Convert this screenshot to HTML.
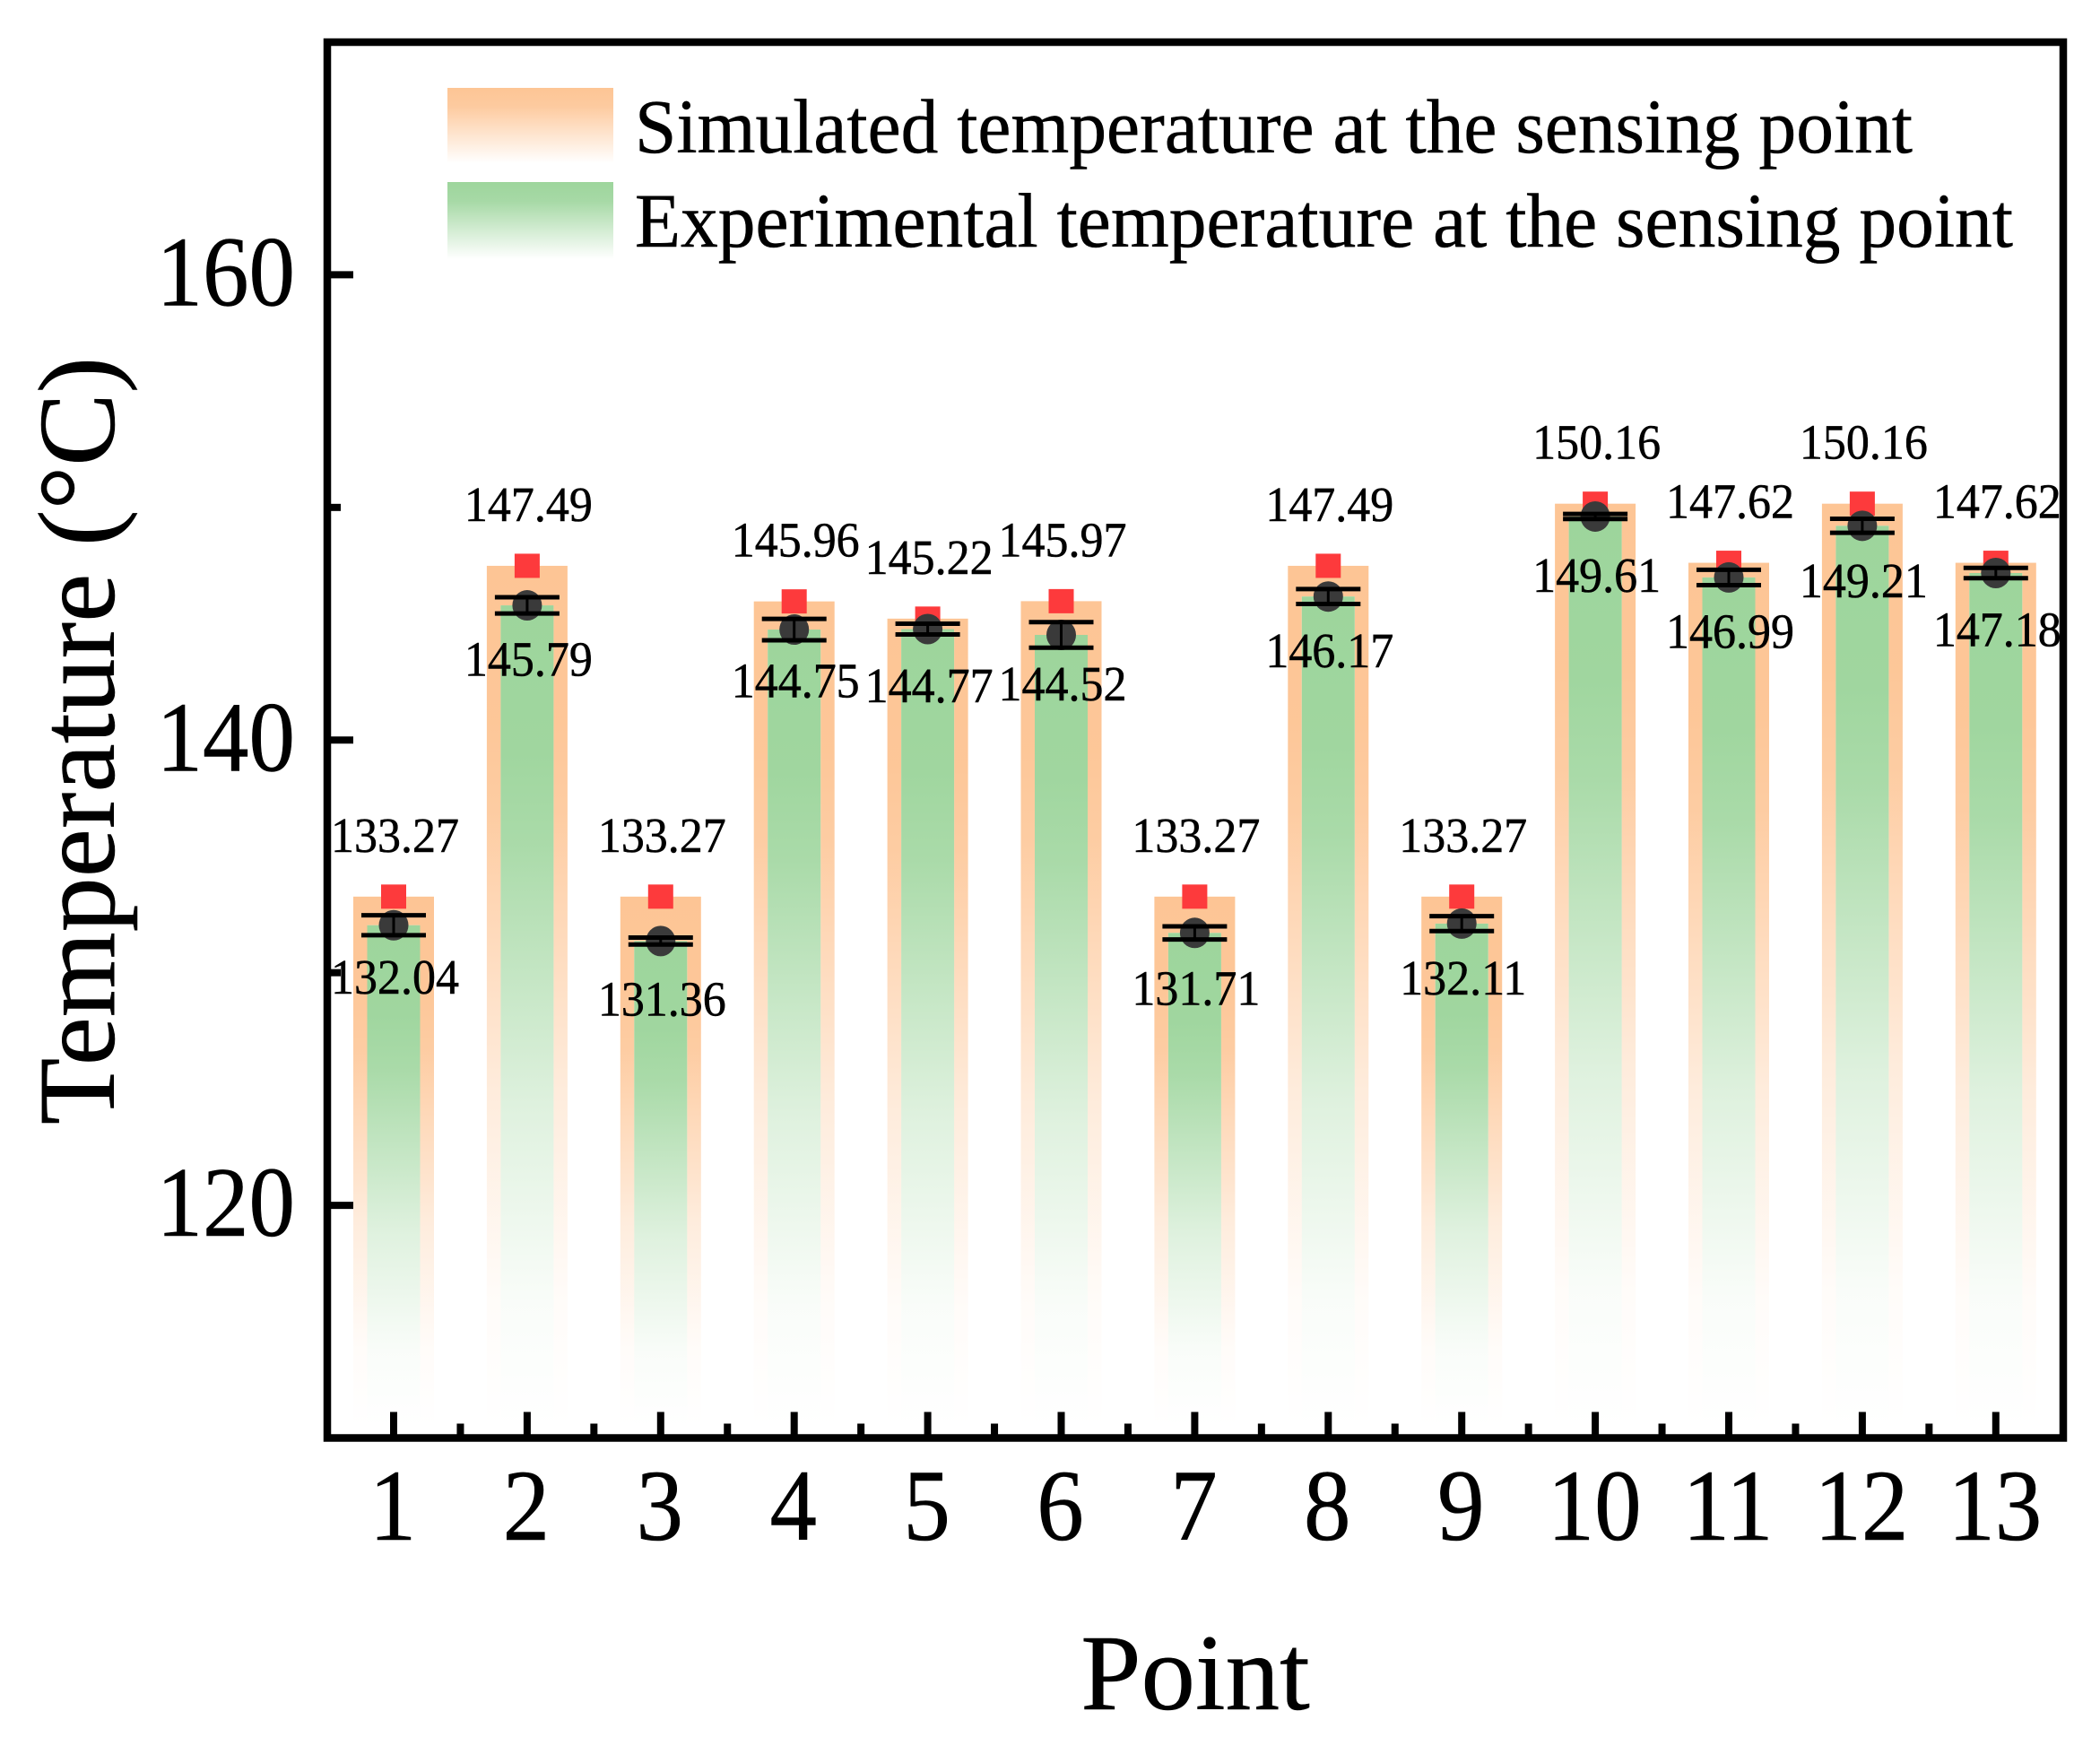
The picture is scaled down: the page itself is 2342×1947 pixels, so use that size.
<!DOCTYPE html>
<html lang="en">
<head>
<meta charset="utf-8">
<title>Temperature at the sensing points</title>
<style>
html,body{margin:0;padding:0;background:#fff;}
svg{display:block;}
text{font-family:"Liberation Serif","Times New Roman",serif;fill:#000;stroke:#000;stroke-width:0.5px;}
</style>
</head>
<body>
<svg id="chart" xmlns="http://www.w3.org/2000/svg" width="2342" height="1947" viewBox="0 0 2342 1947">
<defs>
<linearGradient id="barOrange" x1="0" y1="0" x2="0" y2="1">
<stop offset="0" stop-color="#fdc595"/><stop offset="0.18" stop-color="#fdc595" stop-opacity="0.97"/><stop offset="0.29" stop-color="#fdc595" stop-opacity="0.87"/><stop offset="0.61" stop-color="#fdc595" stop-opacity="0.33"/><stop offset="0.85" stop-color="#fdc595" stop-opacity="0.06"/><stop offset="1" stop-color="#fdc595" stop-opacity="0"/>
</linearGradient>
<linearGradient id="barGreen" x1="0" y1="0" x2="0" y2="1">
<stop offset="0" stop-color="#9dd59c"/><stop offset="0.18" stop-color="#9dd59c" stop-opacity="0.97"/><stop offset="0.29" stop-color="#9dd59c" stop-opacity="0.87"/><stop offset="0.61" stop-color="#9dd59c" stop-opacity="0.33"/><stop offset="0.85" stop-color="#9dd59c" stop-opacity="0.06"/><stop offset="1" stop-color="#9dd59c" stop-opacity="0"/>
</linearGradient>
<linearGradient id="legendOrange" x1="0" y1="0" x2="0" y2="1">
<stop offset="0" stop-color="#fdc595"/><stop offset="0.25" stop-color="#fdc595" stop-opacity="0.9"/><stop offset="1" stop-color="#fdc595" stop-opacity="0"/>
</linearGradient>
<linearGradient id="legendGreen" x1="0" y1="0" x2="0" y2="1">
<stop offset="0" stop-color="#9dd59c"/><stop offset="0.25" stop-color="#9dd59c" stop-opacity="0.9"/><stop offset="1" stop-color="#9dd59c" stop-opacity="0"/>
</linearGradient>
</defs>
<rect x="0" y="0" width="2342" height="1947" fill="#ffffff"/>
<g id="bars"></g>
<g id="marks"></g>
<g id="labels"></g>
<g id="axes"></g>
<rect x="365" y="47" width="1936" height="1556.5" fill="none" stroke="#000" stroke-width="8.5"/>
<g>
<rect x="499" y="98" width="185" height="84" fill="url(#legendOrange)"/>
<text x="708" y="170" font-size="86" textLength="1425" lengthAdjust="spacingAndGlyphs">Simulated temperature at the sensing point</text>
<rect x="499" y="203" width="185" height="86" fill="url(#legendGreen)"/>
<text x="708" y="275" font-size="86" textLength="1537" lengthAdjust="spacingAndGlyphs">Experimental temperature at the sensing point</text>
</g>
<text x="1333" y="1906" font-size="121" text-anchor="middle">Point</text>
<text transform="translate(127,826) rotate(-90)" font-size="122" text-anchor="middle">Temperature (°C)</text>
</svg>
<script>
const points = ["1","2","3","4","5","6","7","8","9","10","11","12","13"];
const simulated = [133.27,147.49,133.27,145.96,145.22,145.97,133.27,147.49,133.27,150.16,147.62,150.16,147.62];
const experimental = [132.04,145.79,131.36,144.75,144.77,144.52,131.71,146.17,132.11,149.61,146.99,149.21,147.18];
const errors = [0.43,0.35,0.15,0.46,0.23,0.55,0.28,0.32,0.32,0.11,0.33,0.30,0.22];
const yTicks = [120,140,160];
const yMinorTicks = [130,150];

const NS = "http://www.w3.org/2000/svg";
const plotTop = 47, plotBottom = 1603.5, yMax = 170, yMin = 110;
const firstX = 439, stepX = 148.9;
const fadeBase = 110.5;
function xPos(i){ return firstX + i * stepX; }
function yPos(v){ return plotTop + (yMax - v) * (plotBottom - plotTop) / (yMax - yMin); }
function make(tag, parent, attrs){
  const el = document.createElementNS(NS, tag);
  for (const k in attrs) el.setAttribute(k, attrs[k]);
  parent.appendChild(el);
  return el;
}
function stretched(x, y, s){ return "translate(" + x + "," + y + ") scale(1," + s + ")"; }
const barsG = document.getElementById("bars");
const marksG = document.getElementById("marks");
const labelsG = document.getElementById("labels");
const axesG = document.getElementById("axes");

points.forEach(function(p, i){
  const cx = xPos(i);
  const base = yPos(fadeBase);
  const simY = yPos(simulated[i]);
  const expY = yPos(experimental[i]);
  const errPx = errors[i] * (plotBottom - plotTop) / (yMax - yMin);

  const simBar = make("rect", barsG, {x: cx - 45, y: simY, width: 90, height: base - simY, fill: "url(#barOrange)"});
  
  

  const whiteGap = make("rect", barsG, {x: cx - 29.5, y: expY, width: 59, height: base - expY, fill: "#fff"});
  
  

  const expBar = make("rect", barsG, {x: cx - 29.5, y: expY, width: 59, height: base - expY, fill: "url(#barGreen)"});
  
  

  const square = make("rect", marksG, {x: cx - 14, y: simY - 13.5, width: 28, height: 27, fill: "#fd3a3c"});
  
  

  const dot = make("ellipse", marksG, {cx: cx, cy: expY, rx: 16.5, ry: 17, fill: "#3a3a3a"});
  
  

  const stem = make("line", marksG, {x1: cx, x2: cx, y1: expY - errPx, y2: expY + errPx, stroke: "#000", "stroke-width": 3});
  
  

  const capTop = make("line", marksG, {x1: cx - 36, x2: cx + 36, y1: expY - errPx, y2: expY - errPx, stroke: "#000", "stroke-width": 5});
  
  

  const capBottom = make("line", marksG, {x1: cx - 36, x2: cx + 36, y1: expY + errPx, y2: expY + errPx, stroke: "#000", "stroke-width": 5});
  
  

  const simLabel = make("text", labelsG, {transform: stretched(cx + 1.5, simY - 50, 1.05), "font-size": 52, "text-anchor": "middle"});
  simLabel.textContent = simulated[i].toFixed(2);
  
  

  const expLabel = make("text", labelsG, {transform: stretched(cx + 1.5, expY + 87 - 25 * errors[i], 1.05), "font-size": 52, "text-anchor": "middle"});
  expLabel.textContent = experimental[i].toFixed(2);
  
  

  const xTick = make("line", axesG, {x1: cx, x2: cx, y1: plotBottom - 29, y2: plotBottom, stroke: "#000", "stroke-width": 8});
  
  

  const xLabel = make("text", axesG, {transform: stretched(cx - 1, 1717, 1.08), "font-size": 105, "text-anchor": "middle"});
  xLabel.textContent = p;
  
  

  if (i < points.length - 1) {
    const xMinor = make("line", axesG, {x1: cx + stepX / 2, x2: cx + stepX / 2, y1: plotBottom - 16, y2: plotBottom, stroke: "#000", "stroke-width": 8});
    
    
  }
});

yTicks.forEach(function(v){
  const tick = make("line", axesG, {x1: 365, x2: 394, y1: yPos(v), y2: yPos(v), stroke: "#000", "stroke-width": 8});
  
  

  const label = make("text", axesG, {transform: stretched(329, yPos(v) + 34, 1.08), "font-size": 103, "text-anchor": "end"});
  label.textContent = String(v);
  
  
});

yMinorTicks.forEach(function(v){
  const tick = make("line", axesG, {x1: 365, x2: 380, y1: yPos(v), y2: yPos(v), stroke: "#000", "stroke-width": 8});
  
  
});
</script>
</body>
</html>
